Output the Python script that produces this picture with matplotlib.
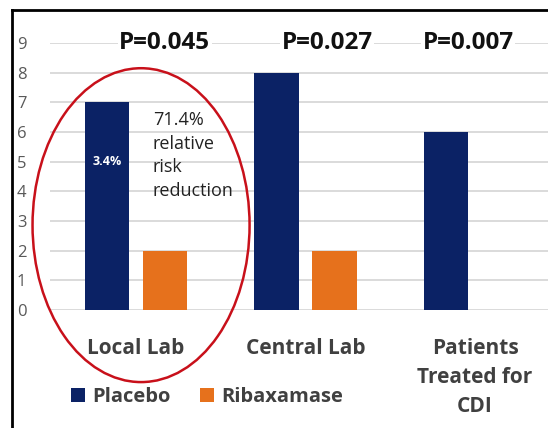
import matplotlib.pyplot as plt
from matplotlib.patches import Ellipse
import numpy as np

# chart data
groups = ['Local Lab', 'Central Lab', 'Patients\nTreated for\nCDI']
placebo = [7, 8, 6]
ribaxamase = [2, 2, 0]
p_values = ['P=0.045', 'P=0.027', 'P=0.007']
y_ticks = list(range(0, 10))

NAVY = '#0b2265'
ORANGE = '#e6711c'
GREY = '#404040'

plt.rcParams['font.family'] = ['Open Sans', 'DejaVu Sans']

fig = plt.figure(figsize=(5.48, 4.28), dpi=100)
ax = fig.add_axes([50 / 548, 118 / 428, 498 / 548, 267 / 428])

x = np.arange(len(groups))
w = 0.2625
off = 0.171
ax.bar(x - off, placebo, w, color=NAVY, zorder=3, label='Placebo')
ax.bar(x + off, ribaxamase, w, color=ORANGE, zorder=3, label='Ribaxamase')

ax.set_xlim(-0.507, 2.43)
ax.set_ylim(0, 9)
ax.set_yticks(y_ticks)
ax.set_yticklabels([str(t) for t in y_ticks], color='#595959', fontsize=12)
ax.tick_params(axis='y', length=0, pad=17)
ax.tick_params(axis='x', length=0)
ax.set_xticks([])
for s in ax.spines.values():
    s.set_visible(False)
ax.grid(axis='y', color='#d4d4d4', linewidth=1.2, zorder=0)

# category labels under each group
for i, g in enumerate(groups):
    ax.text(i, -0.95, g, ha='center', va='top', fontsize=15, fontweight='bold',
            color=GREY, linespacing=1.5)

# p-values on top, white box hides the gridline
p_x = [0.17, 1.127, 1.96]
for px, p in zip(p_x, p_values):
    ax.text(px, 9, p, ha='center', va='center', fontsize=17.5, fontweight='bold',
            color='#111111', zorder=4,
            bbox=dict(facecolor='white', edgecolor='none', pad=1))

ax.text(0 - off, 5.0, '3.4%', ha='center', va='center', fontsize=9,
        fontweight='bold', color='white', zorder=4)
ax.text(0.1, 6.7, '71.4%\nrelative\nrisk\nreduction', ha='left', va='top',
        fontsize=13, color='#222222', linespacing=1.4, zorder=4)

# red ring around the local lab group
ring = Ellipse((0.03, 2.86), 1.28, 10.58, angle=0, fill=False,
               edgecolor='#c8101a', linewidth=1.8, clip_on=False, zorder=5)
ax.add_patch(ring)

# legend row
ax.legend(loc='upper left', bbox_to_anchor=(0.005, -0.22), ncol=2, frameon=False,
          handlelength=0.7, handleheight=0.7, handletextpad=0.35, columnspacing=1.5,
          prop={'size': 14.5, 'weight': 'bold'}, labelcolor=GREY)

# frame lines on the left and top
fig.add_artist(plt.Line2D([12 / 548, 12 / 548], [0, 1 - 10 / 428], color='black',
                          linewidth=2, transform=fig.transFigure))
fig.add_artist(plt.Line2D([12 / 548, 1], [1 - 10 / 428, 1 - 10 / 428], color='black',
                          linewidth=2, transform=fig.transFigure))

fig.savefig('out.png', dpi=100)
